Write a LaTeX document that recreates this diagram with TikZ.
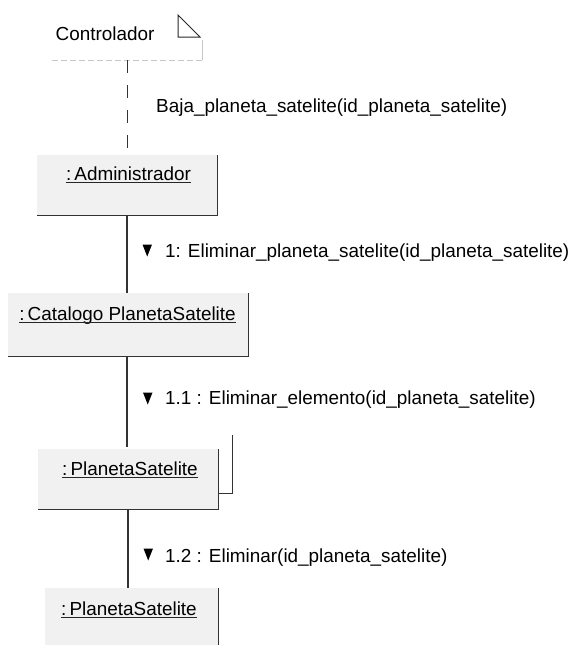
\documentclass[tikz,border=0pt]{standalone}
\usepackage{fontspec}
\setmainfont{Liberation Sans}
\begin{document}
\begin{tikzpicture}[x=1pt,y=-1pt,
  objbox/.style={draw=none, fill=gray!11, inner sep=0pt, anchor=north west},
  objedge/.style={draw=black!80, line width=1.2pt},
  faint/.style={draw=gray!45, line width=0.8pt, dash pattern=on 6pt off 3pt},
  lbl/.style={inner sep=0pt, anchor=base, font=\fontsize{18.9}{22}\selectfont, text=black},
  msg/.style={inner sep=0pt, anchor=base west, font=\fontsize{18.9}{22}\selectfont, text=black},
  uline/.style={draw=black!85, line width=1.2pt},
  link/.style={draw=black!80, line width=1.3pt},
  calllink/.style={draw=black!80, line width=1.3pt, dash pattern=on 13pt off 12pt},
  dirmark/.style={fill=black}]
\useasboundingbox (0,0) rectangle (571,645);

% controller (boundary note)
\node[inner sep=0pt, minimum width=150pt, minimum height=55pt, anchor=north west] (ctrl) at (52,5) {};
\node[lbl] (ctrlt) at (105,40.5) {Controlador};
\draw[black!85, line width=1pt] (178,15) -- (178,37) -- (200,37) -- cycle;
\draw[faint] (ctrl.south west) -- (ctrl.south east);
\draw[draw=gray!45, line width=0.8pt] (ctrl.south east) -- ++(0,-20);

% object boxes; the multi-object shows a second box behind the first
\node[inner sep=0pt, anchor=north west, minimum width=180pt, minimum height=58pt] (psb) at (52,435) {};
\draw[objedge] (psb.north east) -- (psb.south east) -- (psb.south west);
\node[objbox, minimum width=180pt, minimum height=60pt] (adm) at (37,155) {};
\node[objbox, minimum width=240pt, minimum height=63pt] (cat) at (8,293) {};
\node[objbox, minimum width=180pt, minimum height=60pt] (ps1) at (38,449) {};
\node[objbox, minimum width=173pt, minimum height=60pt] (ps2) at (45,588) {};

\draw[objedge] (adm.north east) -- (adm.south east) -- (adm.south west);
\draw[objedge] (cat.north east) -- (cat.south east) -- (cat.south west);
\draw[objedge] (ps1.north east) -- (ps1.south east) -- (ps1.south west);
\draw[objedge] (ps2.north east) -- (ps2.south east);

% object names
\node[lbl] (admt) at (128.5,180) {:\,Administrador};
\node[lbl] (catt) at (127.5,320) {:\,Catalogo PlanetaSatelite};
\node[lbl] (ps1t) at (130,475) {:\,PlanetaSatelite};
\node[lbl] (ps2t) at (129,615) {:\,PlanetaSatelite};
\foreach \n in {admt,catt,ps1t,ps2t}
  \draw[uline] ([yshift=-2.5pt]\n.base west) -- ([yshift=-2.5pt]\n.base east);

% links
\draw[calllink] (ctrl.south) -- (adm.north);
\draw[link] (127,215) -- (127,293);
\draw[link] (127,356) -- (127,447);
\draw[link] (128,509) -- (128,588);

% messages
\node[msg] (m0) at (156,112.5) {Baja\_planeta\_satelite(id\_planeta\_satelite)};
\node[msg] (m1) at (165,257) {1: Eliminar\_planeta\_satelite(id\_planeta\_satelite)};
\node[msg] (m2) at (165,404) {1.1 : Eliminar\_elemento(id\_planeta\_satelite)};
\node[msg] (m3) at (165,562) {1.2 : Eliminar(id\_planeta\_satelite)};
\fill[dirmark] (142.5,244.5) -- (152,244.5) -- (147.2,256.5) -- cycle;
\fill[dirmark] (143,392.5) -- (152.5,392.5) -- (147.7,404.5) -- cycle;
\fill[dirmark] (143.5,548.5) -- (153,548.5) -- (148.2,560.5) -- cycle;
\end{tikzpicture}
\end{document}
